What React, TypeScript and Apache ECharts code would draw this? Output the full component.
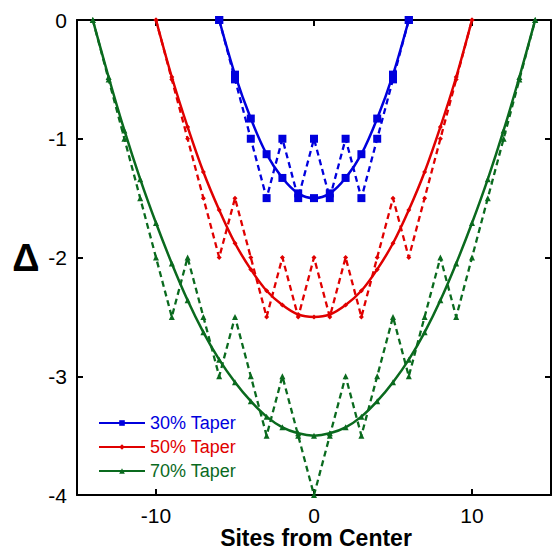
import React, { useEffect, useRef } from "react";
import * as echarts from "echarts";

const sites30 = [-6, -5, -4, -3, -2, -1, 0, 1, 2, 3, 4, 5, 6];
const taper30Smooth = [0, -0.46, -0.83, -1.13, -1.33, -1.46, -1.5, -1.46, -1.33, -1.13, -0.83, -0.46, 0];
const taper30Actual = [0, -0.5, -1, -1.5, -1, -1.5, -1, -1.5, -1, -1.5, -1, -0.5, 0];

const sites50 = [-10, -9, -8, -7, -6, -5, -4, -3, -2, -1, 0, 1, 2, 3, 4, 5, 6, 7, 8, 9, 10];
const taper50Smooth = [0, -0.48, -0.9, -1.28, -1.6, -1.88, -2.1, -2.28, -2.4, -2.48, -2.5, -2.48, -2.4, -2.28, -2.1, -1.88, -1.6, -1.28, -0.9, -0.48, 0];
const taper50Actual = [0, -0.5, -1, -1.5, -2, -1.5, -2, -2.5, -2, -2.5, -2, -2.5, -2, -2.5, -2, -1.5, -2, -1.5, -1, -0.5, 0];

const sites70 = [-14, -13, -12, -11, -10, -9, -8, -7, -6, -5, -4, -3, -2, -1, 0, 1, 2, 3, 4, 5, 6, 7, 8, 9, 10, 11, 12, 13, 14];
const taper70Smooth = [0, -0.48, -0.93, -1.34, -1.71, -2.05, -2.36, -2.63, -2.86, -3.05, -3.21, -3.34, -3.43, -3.48, -3.5, -3.48, -3.43, -3.34, -3.21, -3.05, -2.86, -2.63, -2.36, -2.05, -1.71, -1.34, -0.93, -0.48, 0];
const taper70Actual = [0, -0.5, -1, -1.5, -2, -2.5, -2, -2.5, -3, -2.5, -3, -3.5, -3, -3.5, -4, -3.5, -3, -3.5, -3, -2.5, -3, -2.5, -2, -2.5, -2, -1.5, -1, -0.5, 0];

const legendNames = ["30% Taper", "50% Taper", "70% Taper"];
const colors = ["#0000dd", "#e00000", "#0a6a1e"];

const FONT = "'Liberation Sans', Arial, sans-serif";

function pairs(xs: number[], ys: number[]) {
  return xs.map((x, i) => [x, ys[i]]);
}

export default function App() {
  const ref = useRef<HTMLDivElement>(null);
  useEffect(() => {
    if (!ref.current) return;
    const chart = echarts.init(ref.current, null, { renderer: "svg" });
    const symbols = ["rect", "diamond", "triangle"];
    const symSizes = [8, 5, 6];
    const xsList = [sites30, sites50, sites70];
    const smooth = [taper30Smooth, taper50Smooth, taper70Smooth];
    const actual = [taper30Actual, taper50Actual, taper70Actual];
    const series: any[] = [];
    for (let i = 0; i < 3; i++) {
      series.push({
        name: legendNames[i] + " sites",
        type: "line",
        data: pairs(xsList[i], actual[i]),
        symbol: symbols[i],
        symbolSize: symSizes[i],
        itemStyle: { color: colors[i] },
        lineStyle: { color: colors[i], width: 2.3, type: [6, 4] },
        z: 2,
      });
      series.push({
        name: legendNames[i],
        type: "line",
        data: pairs(xsList[i], smooth[i]),
        smooth: 0.3,
        symbol: symbols[i],
        symbolSize: symSizes[i],
        itemStyle: { color: colors[i] },
        lineStyle: { color: colors[i], width: 2.5 },
        z: 3,
      });
    }
    const axisCommon = {
      axisLine: { show: true, onZero: false, lineStyle: { color: "#000", width: 2 } },
      axisTick: { show: true, inside: true, length: 6, lineStyle: { color: "#000", width: 2 } },
      splitLine: { show: false },
    };
    chart.setOption({
      animation: false,
      backgroundColor: "#fff",
      grid: { left: 77, right: 2, top: 20, bottom: 57, containLabel: false },
      xAxis: [
        {
          type: "value",
          min: -15,
          max: 15,
          interval: 10,
          position: "bottom",
          ...axisCommon,
          axisLabel: {
            show: true,
            color: "#000",
            fontSize: 21,
            fontFamily: FONT,
            margin: 10,
            formatter: (v: number) => (v === -15 || v === 15 ? "" : String(v)),
            customValues: [-10, 0, 10],
          },
          axisTick: { ...axisCommon.axisTick, customValues: [-10, 0, 10] },
        },
        {
          type: "value",
          min: -15,
          max: 15,
          position: "top",
          ...axisCommon,
          axisLabel: { show: false },
          axisTick: { ...axisCommon.axisTick, customValues: [-10, 0, 10] },
        },
      ],
      yAxis: [
        {
          type: "value",
          min: -4,
          max: 0,
          interval: 1,
          position: "left",
          ...axisCommon,
          axisLabel: { show: true, color: "#000", fontSize: 21, fontFamily: FONT, margin: 10 },
        },
        {
          type: "value",
          min: -4,
          max: 0,
          interval: 1,
          position: "right",
          ...axisCommon,
          axisLabel: { show: false },
        },
      ],
      legend: {
        data: legendNames.map((n, i) => ({ name: n, textStyle: { color: colors[i] } })),
        orient: "vertical",
        left: 93,
        top: 409,
        itemWidth: 46,
        itemHeight: 7,
        itemGap: 6,
        textStyle: { fontSize: 18, fontFamily: FONT },
        selectedMode: false,
      },
      graphic: [
        {
          type: "text",
          x: 316,
          y: 538,
          style: {
            text: "Sites from Center",
            font: `bold 23px ${FONT}`,
            fill: "#000",
            align: "center",
            verticalAlign: "middle",
          },
        },
        {
          type: "text",
          x: 26,
          y: 258,
          style: {
            text: "Δ",
            font: `bold 38px ${FONT}`,
            fill: "#000",
            align: "center",
            verticalAlign: "middle",
          },
        },
      ],
      series,
    });
    return () => chart.dispose();
  }, []);
  return (
    <div
      ref={ref}
      style={{ position: "fixed", left: 0, top: 0, width: 553, height: 552, background: "#fff" }}
    />
  );
}
